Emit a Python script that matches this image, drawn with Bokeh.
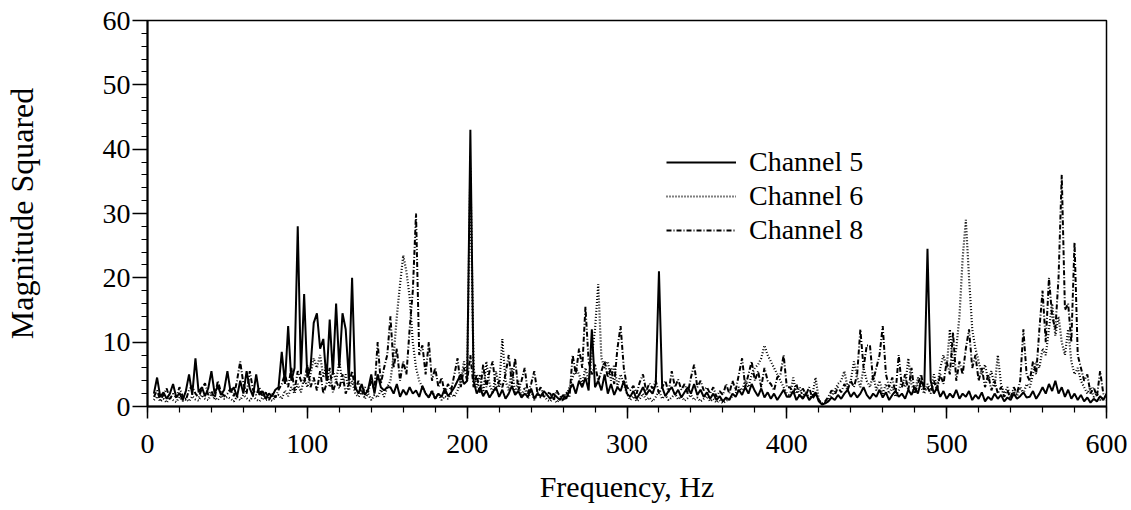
import numpy as np
from bokeh.plotting import figure
from bokeh.models import Range1d, Legend, LegendItem, FixedTicker
from bokeh.embed import file_html
from bokeh.resources import INLINE

# Frequency grid: 4 Hz .. 600 Hz in 2 Hz steps
f_start, f_step = 4, 2

channel5 = [
    # 4..50
    2.0, 4.5, 1.5, 2.2, 1.2, 2.0, 3.5, 1.4, 2.1, 1.0, 2.4, 5.0, 1.8, 7.5, 2.2, 3.0, 1.6, 2.8, 5.5, 2.0, 3.2, 1.8, 2.6, 5.5,
    # 52..100
    2.2, 3.0, 1.5, 4.0, 2.0, 5.5, 2.8, 1.6, 5.0, 1.8, 2.4, 1.2, 2.0, 1.6, 2.6, 3.0, 8.5, 3.5, 12.5, 4.0, 6.0, 28.0, 5.0, 17.5, 4.5,
    # 102..150
    6.0, 13.0, 14.5, 9.0, 10.5, 4.0, 13.5, 5.0, 16.0, 6.0, 14.5, 12.0, 4.0, 20.0, 3.0, 2.0, 3.5, 1.8, 2.6, 5.0, 2.0, 5.0, 3.0, 2.5, 3.0,
    # 152..200
    3.0, 2.0, 3.5, 1.5, 2.6, 1.8, 3.0, 2.0, 2.5, 1.5, 3.2, 2.0, 1.4, 2.4, 1.2, 2.0, 1.5, 2.8, 1.6, 2.2, 3.0, 4.0, 5.0, 3.5, 4.0,
    # 202..250
    43.0, 4.0, 2.0, 3.0, 1.6, 2.5, 1.4, 2.2, 3.0, 1.5, 2.6, 1.2, 2.0, 3.2, 1.8, 2.4, 1.4, 2.0, 1.5, 2.8, 1.2, 2.0, 1.6, 2.4, 1.8,
    # 252..300
    1.2, 2.0, 1.5, 1.0, 1.8, 1.2, 2.6, 3.5, 2.0, 4.0, 3.0, 4.5, 2.5, 12.0, 3.0, 4.0, 2.5, 5.0, 2.0, 3.5, 1.8, 3.0, 2.4, 4.0, 2.0,
    # 302..350
    1.5, 2.4, 1.2, 2.0, 3.0, 1.8, 2.6, 2.0, 3.5, 21.0, 3.0, 1.6, 2.4, 3.0, 1.8, 2.6, 1.4, 2.2, 3.0, 2.0, 3.5, 1.8, 2.6, 1.5, 2.2,
    # 352..400
    1.2, 2.0, 1.0, 1.6, 0.8, 1.4, 1.0, 2.0, 1.5, 2.6, 1.8, 3.0, 2.0, 3.5, 2.4, 1.6, 2.8, 1.4, 2.2, 1.2, 2.0, 1.0, 1.8, 2.6, 1.5,
    # 402..450
    1.5, 2.4, 1.0, 1.8, 1.2, 2.0, 1.0, 1.6, 2.2, 0.8, 0.3, 0.5, 0.8, 1.4, 1.0, 1.8, 1.2, 2.0, 2.6, 1.5, 2.2, 1.4, 2.0, 3.0, 1.8,
    # 452..500
    1.2, 2.0, 1.5, 2.6, 1.4, 2.2, 1.0, 1.8, 2.4, 1.5, 2.0, 1.2, 2.6, 1.8, 3.0, 2.0, 4.0, 3.0, 24.5, 4.0, 2.0, 3.0, 1.5, 2.4, 1.2,
    # 502..550
    2.0, 1.4, 2.6, 1.2, 2.0, 1.5, 2.4, 1.0, 1.8, 1.2, 2.2, 0.8, 1.5, 1.0, 2.0, 1.2, 1.8, 0.8, 1.4, 1.0, 2.0, 1.2, 1.6, 2.2, 1.4,
    # 552..600
    1.5, 2.4, 1.2, 2.0, 3.0, 2.0, 3.5, 2.4, 4.0, 2.0, 3.0, 1.5, 2.6, 1.2, 2.0, 1.0, 1.8, 0.8, 1.4, 0.6, 1.2, 0.8, 1.6, 1.0, 2.0,
]

channel6 = [
    # 4..50
    1.0, 1.6, 0.8, 1.2, 0.6, 1.4, 1.0, 0.7, 1.5, 0.9, 1.2, 0.8, 1.6, 1.1, 0.9, 1.8, 1.2, 1.0, 2.0, 1.3, 1.0, 1.7, 1.2, 1.5,
    # 52..100
    1.2, 0.8, 1.5, 1.0, 1.8, 1.3, 0.9, 1.6, 1.1, 0.8, 1.4, 1.0, 1.2, 0.9, 1.5, 1.8, 1.2, 2.5, 1.6, 3.0, 2.0, 3.5, 2.2, 4.5, 3.0,
    # 102..150
    5.0, 7.5, 6.0, 8.0, 4.5, 6.5, 3.0, 5.5, 4.0, 7.0, 3.5, 5.0, 2.5, 4.0, 2.0, 1.5, 2.4, 1.2, 2.0, 1.0, 1.8, 1.4, 2.6, 1.5, 3.0,
    # 152..200
    4.0, 8.0, 14.0, 19.0, 23.5, 21.0, 17.0, 10.0, 6.0, 4.0, 3.0, 2.0, 1.5, 2.5, 1.2, 2.0, 1.0, 1.6, 1.2, 2.0, 1.5, 2.5, 4.0, 7.0, 5.0,
    # 202..250
    37.0, 6.0, 3.0, 5.0, 2.0, 7.0, 3.5, 2.0, 5.5, 3.0, 10.5, 4.0, 2.5, 6.0, 2.0, 4.0, 1.5, 3.0, 1.2, 2.5, 1.0, 2.0, 1.4, 1.8, 1.0,
    # 252..300
    0.8, 1.4, 0.6, 1.2, 0.9, 1.6, 3.0, 4.5, 6.0, 5.0, 3.5, 6.0, 4.0, 8.0, 12.0, 19.0, 7.5, 6.0, 7.0, 4.0, 6.5, 3.0, 5.0, 3.5, 2.0,
    # 302..350
    1.0, 1.6, 0.8, 1.2, 2.0, 1.0, 1.4, 0.8, 1.5, 2.5, 1.2, 1.8, 1.0, 1.4, 2.0, 1.1, 1.6, 0.9, 1.3, 1.8, 1.0, 1.4, 0.8, 1.2, 1.6,
    # 352..400
    0.8, 1.2, 0.6, 1.0, 0.5, 0.9, 1.2, 1.6, 2.0, 3.0, 2.5, 4.0, 3.0, 5.0, 6.0, 6.5, 7.5, 9.5, 8.0, 7.0, 6.0, 5.0, 4.0, 3.0, 2.0,
    # 402..450
    1.6, 4.5, 2.0, 3.0, 1.5, 2.4, 1.2, 1.8, 4.5, 1.0, 0.4, 0.6, 1.0, 1.8, 2.5, 3.5, 4.0, 5.5, 3.0, 4.0, 7.0, 4.5, 3.0, 6.0, 4.0,
    # 452..500
    3.0, 5.0, 2.5, 4.0, 2.0, 3.5, 2.0, 3.0, 1.5, 2.5, 4.0, 3.0, 7.5, 3.5, 2.0, 4.5, 3.0, 2.0, 3.5, 2.5, 5.0, 3.0, 6.0, 8.0, 6.0,
    # 502..550
    12.0, 6.0, 9.0, 14.0, 23.0, 29.0, 20.0, 12.0, 9.0, 7.0, 5.0, 6.5, 4.0, 5.5, 3.0, 8.0, 3.5, 2.0, 3.0, 1.5, 2.4, 1.6, 3.0, 2.0, 3.5,
    # 552..600
    3.0, 5.0, 7.0, 6.0, 9.0, 8.0, 12.0, 16.0, 11.0, 14.0, 10.0, 8.0, 12.0, 7.0, 5.0, 6.0, 4.0, 3.0, 2.0, 3.0, 1.5, 2.0, 1.0, 1.5, 1.0,
]

channel8 = [
    # 4..50
    1.5, 2.5, 1.0, 1.8, 2.8, 1.2, 2.0, 1.4, 3.0, 1.6, 1.0, 2.6, 3.2, 2.0, 1.4, 2.8, 3.6, 1.8, 2.4, 1.2, 4.0, 2.2, 1.6, 2.0,
    # 52..100
    2.8, 1.6, 4.0, 7.0, 3.5, 2.0, 5.5, 2.6, 1.8, 3.0, 1.5, 2.2, 1.0, 2.0, 1.4, 2.6, 3.5, 5.0, 3.0, 6.0, 2.4, 5.5, 4.0, 3.5, 6.5,
    # 102..150
    3.0, 4.5, 2.5, 5.5, 2.0, 3.5, 6.0, 2.2, 4.0, 2.8, 5.0, 2.0, 3.5, 5.5, 2.6, 4.0, 1.8, 3.0, 2.2, 4.0, 2.5, 10.0, 3.5, 6.0, 8.0,
    # 152..200
    14.0, 6.0, 9.0, 4.0, 7.0, 5.0, 12.0, 18.0, 30.0, 8.0, 9.5, 5.0, 10.0, 4.0, 6.0, 3.0, 4.5, 2.0, 3.5, 2.5, 5.0, 7.5, 3.0, 6.0, 4.0,
    # 202..250
    8.0, 3.0, 5.0, 2.0, 6.5, 3.0, 5.5, 7.0, 2.5, 4.0, 3.0, 5.0, 8.0, 3.5, 7.5, 2.5, 4.0, 6.0, 2.0, 3.5, 5.5, 2.0, 3.0, 1.5, 2.2,
    # 252..300
    2.0, 1.0, 2.5, 1.6, 1.0, 2.2, 1.4, 8.0, 5.0, 9.0, 6.0, 15.5, 7.0, 5.0, 6.5, 4.0, 5.5, 7.0, 4.5, 6.0, 3.5, 9.0, 12.5, 6.0, 3.0,
    # 302..350
    2.5, 3.2, 2.0, 3.8, 5.0, 2.4, 3.6, 2.8, 4.0, 2.0, 3.0, 4.0, 2.2, 5.5, 3.0, 4.2, 2.6, 3.5, 2.0, 4.5, 6.5, 3.0, 4.0, 2.5, 3.0,
    # 352..400
    2.0, 3.0, 1.5, 2.4, 1.8, 3.5, 2.0, 4.0, 2.5, 5.0, 7.5, 3.0, 5.0, 7.0, 4.0, 5.5, 3.0, 6.0, 4.0, 3.5, 2.5, 4.5, 5.0, 8.0, 3.0,
    # 402..450
    3.0, 2.0, 3.5, 1.5, 2.8, 1.8, 3.0, 1.2, 2.0, 1.0, 0.5, 0.8, 1.5, 2.5, 1.8, 3.0, 2.2, 3.5, 2.5, 4.0, 3.0, 5.0, 12.0, 6.0, 9.5,
    # 452..500
    9.5, 4.0, 6.0, 8.0, 12.5, 5.0, 3.0, 4.5, 2.0, 8.0, 3.0, 5.0, 2.5, 6.0, 2.0, 3.5, 5.0, 2.5, 3.0, 2.0, 4.0, 2.5, 5.0, 3.5, 7.0,
    # 502..550
    5.0, 11.5, 4.0, 7.0, 5.0, 9.0, 12.0, 6.0, 8.0, 4.0, 6.0, 3.0, 5.0, 2.5, 4.0, 2.0, 3.0, 1.5, 2.5, 1.2, 3.0, 2.0, 4.0, 12.0, 5.0,
    # 552..600
    4.0, 7.0, 5.0, 12.0, 18.0, 10.0, 20.0, 14.0, 12.0, 20.0, 36.0, 15.0, 16.0, 10.0, 25.5, 8.0, 6.0, 4.0, 5.0, 2.0, 3.0, 1.5, 5.5, 2.0, 1.5,
]

x_ticks = [0, 100, 200, 300, 400, 500, 600]
y_ticks = [0, 10, 20, 30, 40, 50, 60]
series_names = ["Channel 5", "Channel 6", "Channel 8"]

FONT = "Liberation Serif"

p = figure(width=1131, height=510, output_backend="svg", toolbar_location=None,
           x_range=Range1d(0, 600), y_range=Range1d(0, 60),
           min_border_left=146, min_border_right=25, min_border_top=20, min_border_bottom=104)
p.background_fill_color = "white"
p.border_fill_color = "white"
p.grid.visible = False
p.outline_line_color = "black"
p.outline_line_width = 1.5

def xs(vals):
    return [f_start + f_step * i for i in range(len(vals))]

styles = [("solid", channel5, 2.0), ("1 2", channel6, 2.2), ("5 2 1 2", channel8, 2.0)]
renderers = []
for dash, vals, lw in styles:
    r = p.line(xs(vals), vals, line_color="black", line_width=lw, line_dash=dash)
    renderers.append(r)

# axes
p.xaxis.ticker = FixedTicker(ticks=x_ticks, minor_ticks=list(range(0, 601, 20)))
p.yaxis.ticker = FixedTicker(ticks=y_ticks, minor_ticks=list(range(0, 61, 2)))
for ax in (p.xaxis[0], p.yaxis[0]):
    ax.axis_line_width = 2
    ax.axis_line_color = "black"
    ax.major_tick_line_width = 1.5
    ax.minor_tick_line_width = 1.2
    ax.major_tick_in = 0
    ax.minor_tick_in = 0
    ax.major_label_text_font = FONT
    ax.major_label_text_font_size = "28px"
    ax.major_label_text_color = "black"
    ax.axis_label_text_font = FONT
    ax.axis_label_text_font_style = "normal"
    ax.axis_label_text_color = "black"

p.xaxis.major_tick_out = 12
p.xaxis.minor_tick_out = 6
p.xaxis.major_label_standoff = 16
p.xaxis.axis_label = "Frequency, Hz"
p.xaxis.axis_label_text_font_size = "30px"
p.xaxis.axis_label_standoff = 14

p.yaxis.major_tick_out = 15
p.yaxis.minor_tick_out = 6
p.yaxis.major_label_standoff = 2
p.yaxis.axis_label = "Magnitude Squared"
p.yaxis.axis_label_text_font_size = "32px"
p.yaxis.axis_label_standoff = 60

legend = Legend(items=[LegendItem(label=n, renderers=[r]) for n, r in zip(series_names, renderers)],
                location=(519, 160), orientation="vertical")
legend.border_line_color = None
legend.background_fill_alpha = 0
legend.padding = 0
legend.margin = 0
legend.spacing = 2
legend.glyph_width = 70
legend.glyph_height = 30
legend.label_height = 30
legend.label_standoff = 13
legend.label_text_font = FONT
legend.label_text_font_size = "28px"
legend.label_text_color = "black"
p.add_layout(legend, "center")

open("out.html", "w").write(file_html(p, INLINE))
